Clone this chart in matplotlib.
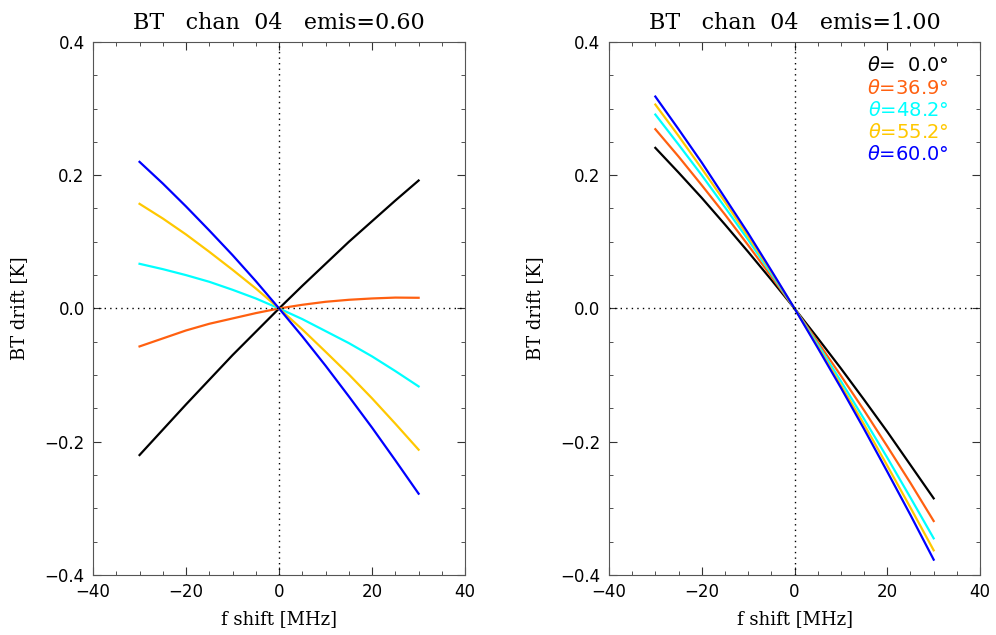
import numpy as np
import matplotlib
matplotlib.use('Agg')
import matplotlib.pyplot as plt
from matplotlib.ticker import MultipleLocator

# Data
F_SHIFT = [-30, -25, -20, -15, -10, -5, 0, 5, 10, 15, 20, 25, 30]
ANGLES = ['0.0', '36.9', '48.2', '55.2', '60.0']
COLORS = ['#000000', '#ff6010', '#00ffff', '#ffc800', '#0000ff']

# emis = 0.60
DRIFT_060 = {
    '0.0':  [-0.220, -0.182, -0.144, -0.107, -0.070, -0.035, 0.0,
             0.034, 0.067, 0.100, 0.131, 0.162, 0.192],
    '36.9': [-0.057, -0.045, -0.033, -0.023, -0.015, -0.007, 0.0,
             0.0055, 0.010, 0.013, 0.015, 0.0163, 0.016],
    '48.2': [0.067, 0.059, 0.050, 0.040, 0.028, 0.015, 0.0,
             -0.016, -0.034, -0.052, -0.072, -0.094, -0.117],
    '55.2': [0.157, 0.135, 0.111, 0.085, 0.058, 0.030, 0.0,
             -0.0315, -0.065, -0.099, -0.135, -0.173, -0.212],
    '60.0': [0.220, 0.1875, 0.153, 0.117, 0.080, 0.041, 0.0,
             -0.042, -0.086, -0.132, -0.179, -0.228, -0.278],
}

# emis = 1.00
DRIFT_100 = {
    '0.0':  [0.241, 0.204, 0.166, 0.126, 0.085, 0.043, 0.0,
             -0.0445, -0.090, -0.137, -0.185, -0.235, -0.285],
    '36.9': [0.269, 0.228, 0.185, 0.141, 0.095, 0.048, 0.0,
             -0.050, -0.101, -0.153, -0.207, -0.262, -0.319],
    '48.2': [0.291, 0.246, 0.200, 0.152, 0.103, 0.052, 0.0,
             -0.054, -0.109, -0.166, -0.224, -0.284, -0.345],
    '55.2': [0.306, 0.259, 0.210, 0.160, 0.108, 0.055, 0.0,
             -0.057, -0.115, -0.174, -0.236, -0.299, -0.363],
    '60.0': [0.318, 0.269, 0.219, 0.166, 0.113, 0.057, 0.0,
             -0.059, -0.119, -0.181, -0.245, -0.310, -0.377],
}

SERIF = 'DejaVu Serif'


def setup_axes(ax, title):
    ax.set_xlim(-40, 40)
    ax.set_ylim(-0.4, 0.4)
    ax.xaxis.set_major_locator(MultipleLocator(20))
    ax.xaxis.set_minor_locator(MultipleLocator(5))
    ax.yaxis.set_major_locator(MultipleLocator(0.2))
    ax.yaxis.set_minor_locator(MultipleLocator(0.05))
    ax.tick_params(which='both', direction='in', top=True, right=True,
                   labelsize=12, color='#333333', pad=6)
    ax.tick_params(which='major', length=6)
    ax.tick_params(which='minor', length=3)
    ax.yaxis.set_major_formatter(plt.FuncFormatter(lambda v, p: f'{v:.1f}'.replace('-', '\u2212')))
    for spine in ax.spines.values():
        spine.set_color('#555555')
    ax.axhline(0, color='black', linestyle=(0, (1, 3)), linewidth=1)
    ax.axvline(0, color='black', linestyle=(0, (1, 3)), linewidth=1)
    ax.set_title(title, fontsize=16, family=SERIF, pad=9)
    ax.set_xlabel('f shift [MHz]', fontsize=13, family=SERIF, labelpad=6)
    ax.set_ylabel('BT drift [K]', fontsize=13, family=SERIF, labelpad=12)


def plot_panel(ax, drift):
    for angle, color in zip(ANGLES, COLORS):
        ax.plot(F_SHIFT, drift[angle], color=color, linewidth=1.6)


def main():
    fig = plt.figure(figsize=(9.96, 6.35), dpi=100)
    ax1 = fig.add_axes([0.0934, 0.0945, 0.3736, 0.8395])
    ax2 = fig.add_axes([0.6114, 0.0945, 0.3726, 0.8395])

    plot_panel(ax1, DRIFT_060)
    setup_axes(ax1, 'BT   chan  04   emis=0.60')

    plot_panel(ax2, DRIFT_100)
    setup_axes(ax2, 'BT   chan  04   emis=1.00')

    # legend as coloured text lines
    for i, (angle, color) in enumerate(zip(ANGLES, COLORS)):
        label = r'$\theta$=' + (angle if len(angle) == 4 else '  ' + angle) + '\u00b0'
        ax2.text(0.915, 0.955 - i * 0.0415, label, transform=ax2.transAxes,
                 ha='right', va='center', color=color, fontsize=14)

    fig.savefig('out.png', dpi=100)


if __name__ == "__main__":
    main()
